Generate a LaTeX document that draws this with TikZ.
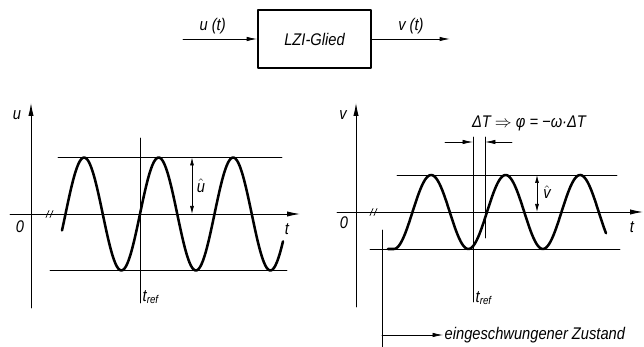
\documentclass[tikz,border=0pt]{standalone}
\usepackage{amsmath,amssymb}
\usepackage{fontspec}
\setsansfont{Liberation Sans}[FakeStretch=0.87]
\usepackage{tikz}
\usetikzlibrary{arrows.meta}

\begin{document}
\begin{tikzpicture}[x=0.025cm, y=0.025cm, line cap=round, line join=round,
  font=\sffamily\itshape\fontsize{12}{14}\selectfont,
  guide/.style={line width=0.5pt},
  axis/.style={line width=0.6pt, -{Latex[length=3.2mm,width=1.3mm]}},
  curve/.style={line width=1.8pt},
  dim/.style={line width=0.5pt, {Latex[length=2mm,width=1mm]}-{Latex[length=2mm,width=1mm]}},
  tip/.style={line width=0.5pt, -{Latex[length=2.6mm,width=1.1mm]}}]

% Frame
\useasboundingbox (0,0) rectangle (644,347);

% Block LZI-Glied
\node[draw, line width=1.2pt, minimum width=2.825cm, minimum height=1.45cm] (glied) at (314.5,308) {LZI-Glied};
\coordinate (ein) at (183,308);
\coordinate (aus) at (450,308);
\draw[tip, line width=0.6pt] (ein) -- node[above, pos=0.4] (ut) {u (t)} (glied);
\draw[tip, line width=0.6pt] (glied) -- node[above] (vt) {v (t)} (aus);

% Input u(t)
\begin{scope}[shift={(31,133)}]
  \draw[guide] (27,56.5) -- (251,56.5);
  \draw[guide] (19,-56.5) -- (256,-56.5);
  \draw[guide] (109,76) -- (109,-89);
  \draw[axis] (0,-94) -- (0,111);
  \draw[axis] (-21,0) -- (269,0);
  \foreach \d in {0,4}
    \draw[guide] (15+\d,-3.5) .. controls (18+\d,-1) and (15+\d,1) .. (18+\d,3.5);
  \draw[curve] plot[domain=31:252, samples=150] (\x, {56.5*sin((\x-109)/74.5*360)});
  \draw[dim] (161,56.5) -- (161,0);
  \node (uax) at (-14,99) {u};
  \node (nullu) at (-11,-13) {0};
  \node (tu) at (256,-15) {t};
  \node[right, inner sep=1pt] (trefu) at (110,-83) {t\textsubscript{ref}};
  \node (uhat) at (170,28) {$\hat{\mbox{u}}$};
\end{scope}

% Output v(t)
\begin{scope}[shift={(356,135)}]
  \draw[guide] (41,37) -- (261,37);
  \draw[guide] (14,-37) -- (264,-37);
  \draw[guide] (117,75) -- (117,-90);
  \draw[guide] (129,75) -- (129,-26);
  \draw[guide] (26,-18) -- (26,-135);
  \draw[axis] (0,-95) -- (0,109);
  \draw[axis] (-19,0) -- (287,0);
  \foreach \d in {0,4}
    \draw[guide] (14+\d,-3.5) .. controls (17+\d,-1) and (14+\d,1) .. (17+\d,3.5);
  \draw[curve] (32,-37) -- (37.9,-37) -- plot[domain=37.9:250, samples=150] (\x, {37*sin((\x-131)/74.5*360)});
  \draw[tip] (89,70) -- (117,70);
  \draw[tip] (156,70) -- (129,70);
  \draw[dim] (181,37) -- (181,0);
  \node (vax) at (-13,97) {v};
  \node (nullv) at (-12,-11) {0};
  \node (tv) at (276,-15) {t};
  \node[right, inner sep=1pt] (trefv) at (118,-86) {t\textsubscript{ref}};
  \node (vhat) at (191,20) {$\hat{\mbox{v}}$};
  \node (phase) at (173,89) {ΔT $\Rightarrow$ φ = −ω·ΔT};
  \node[right, inner sep=1pt] (zustand) at (87,-123) {eingeschwungener Zustand};
  \draw[tip] (26,-123) -- (zustand.west);
\end{scope}
\end{tikzpicture}
\end{document}
